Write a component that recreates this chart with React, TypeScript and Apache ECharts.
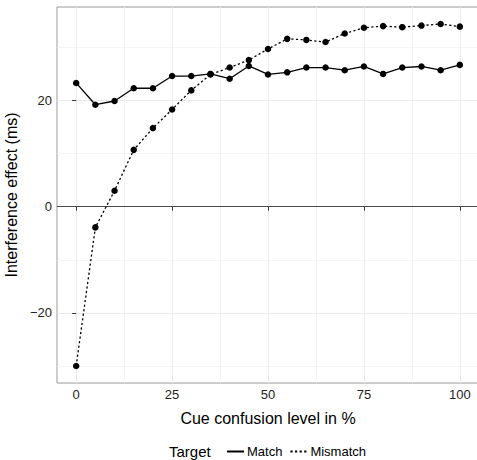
import React, { useEffect, useRef } from "react";
import * as echarts from "echarts";

const cueLevels = [0, 5, 10, 15, 20, 25, 30, 35, 40, 45, 50, 55, 60, 65, 70, 75, 80, 85, 90, 95, 100];
const matchValues = [23.3, 19.2, 19.9, 22.3, 22.3, 24.6, 24.6, 25.0, 24.1, 26.5, 24.9, 25.3, 26.2, 26.2, 25.7, 26.4, 25.0, 26.2, 26.4, 25.7, 26.7];
const mismatchValues = [-30.0, -3.9, 3.0, 10.7, 14.8, 18.3, 21.9, 24.9, 26.2, 27.6, 29.7, 31.6, 31.4, 31.0, 32.6, 33.7, 34.0, 33.8, 34.1, 34.4, 33.9];
const xTicks = [0, 25, 50, 75, 100];
const xMinor = [12.5, 37.5, 62.5, 87.5];
const yTicks = [-20, 0, 20];
const yMinor = [-30, -10, 10, 30];
const seriesNames = ["Match", "Mismatch"];
const legendTitle = "Target";

const FONT = "'Liberation Sans', Arial, Helvetica, sans-serif";

export default function App() {
  const ref = useRef<HTMLDivElement>(null);
  useEffect(() => {
    if (!ref.current) return;
    const chart = echarts.init(ref.current, null, { renderer: "svg" });
    const toPairs = (vals: number[]) => cueLevels.map((x, i) => [x, vals[i]]);
    const gridLines = [
      ...xMinor.map((v) => ({ xAxis: v, lineStyle: { color: "#f4f4f4", width: 1, type: "solid" } })),
      ...yMinor.map((v) => ({ yAxis: v, lineStyle: { color: "#f4f4f4", width: 1, type: "solid" } })),
      ...xTicks.map((v) => ({ xAxis: v, lineStyle: { color: "#ebebeb", width: 1.1, type: "solid" } })),
      ...yTicks.filter((v) => v !== 0).map((v) => ({ yAxis: v, lineStyle: { color: "#ebebeb", width: 1.1, type: "solid" } })),
    ];
    const pointStyle = { color: "#000", borderColor: "#000", borderWidth: 0, opacity: 1 };
    chart.setOption({
      animation: false,
      grid: {
        left: 57,
        right: -2,
        top: 7,
        bottom: 77,
        containLabel: false,
        outerBoundsMode: "none",
        show: true,
        borderColor: "#9a9a9a",
        borderWidth: 1,
        backgroundColor: "#ffffff",
      },
      xAxis: {
        type: "value",
        min: -5,
        max: 105,
        name: "Cue confusion level in %",
        nameLocation: "middle",
        nameGap: 27,
        nameTextStyle: { fontSize: 16, color: "#000", fontFamily: FONT, verticalAlign: "top" },
        axisLine: { show: false },
        splitLine: { show: false },
        axisTick: { show: true, customValues: xTicks, length: 4, lineStyle: { color: "#333", width: 1 } },
        axisLabel: { customValues: xTicks, fontSize: 13, color: "#222", fontFamily: FONT, margin: 5 },
      },
      yAxis: {
        type: "value",
        min: -33.2,
        max: 37.6,
        name: "Interference effect (ms)",
        nameLocation: "middle",
        nameGap: 28,
        nameTextStyle: { fontSize: 16, color: "#000", fontFamily: FONT },
        axisLine: { show: false },
        splitLine: { show: false },
        axisTick: { show: true, customValues: yTicks, length: 4, lineStyle: { color: "#333", width: 1 } },
        axisLabel: {
          customValues: yTicks,
          fontSize: 13,
          color: "#222",
          fontFamily: FONT,
          margin: 5,
          formatter: (v: number) => String(v).replace("-", "\u2212"),
        },
      },
      legend: {
        data: seriesNames,
        left: 221,
        top: 440,
        padding: 5,
        itemWidth: 17,
        itemHeight: 14,
        itemGap: 7,
        itemStyle: { opacity: 0 },
        textStyle: { fontSize: 13, color: "#000", fontFamily: FONT, padding: [0, 0, 0, -2] },
      },
      graphic: [
        {
          type: "text",
          left: 169,
          top: 444,
          style: { text: legendTitle, fontSize: 15, fill: "#000", fontFamily: FONT },
        },
      ],
      series: [
        {
          name: "_grid",
          type: "line",
          data: [],
          z: 0,
          silent: true,
          markLine: {
            z: 0,
            silent: true,
            symbol: ["none", "none"],
            label: { show: false },
            data: gridLines,
          },
        },
        {
          name: "_zero",
          type: "line",
          data: [],
          z: 1,
          silent: true,
          markLine: {
            z: 1,
            silent: true,
            symbol: ["none", "none"],
            label: { show: false },
            data: [{ yAxis: 0, lineStyle: { color: "#4a4a4a", width: 1.2, type: "solid" } }],
          },
        },
        {
          name: seriesNames[0],
          type: "line",
          data: toPairs(matchValues),
          z: 3,
          symbol: "circle",
          symbolSize: 6.5,
          itemStyle: pointStyle,
          lineStyle: { color: "#000", width: 1.3, type: "solid" },
        },
        {
          name: seriesNames[1],
          type: "line",
          data: toPairs(mismatchValues),
          z: 3,
          symbol: "circle",
          symbolSize: 6.5,
          itemStyle: pointStyle,
          lineStyle: { color: "#000", width: 1.3, type: [2.2, 2.4] },
        },
      ],
    });
    return () => chart.dispose();
  }, []);
  return (
    <div
      ref={ref}
      style={{ position: "fixed", left: 0, top: 0, width: 477, height: 460, background: "#fff" }}
    />
  );
}
